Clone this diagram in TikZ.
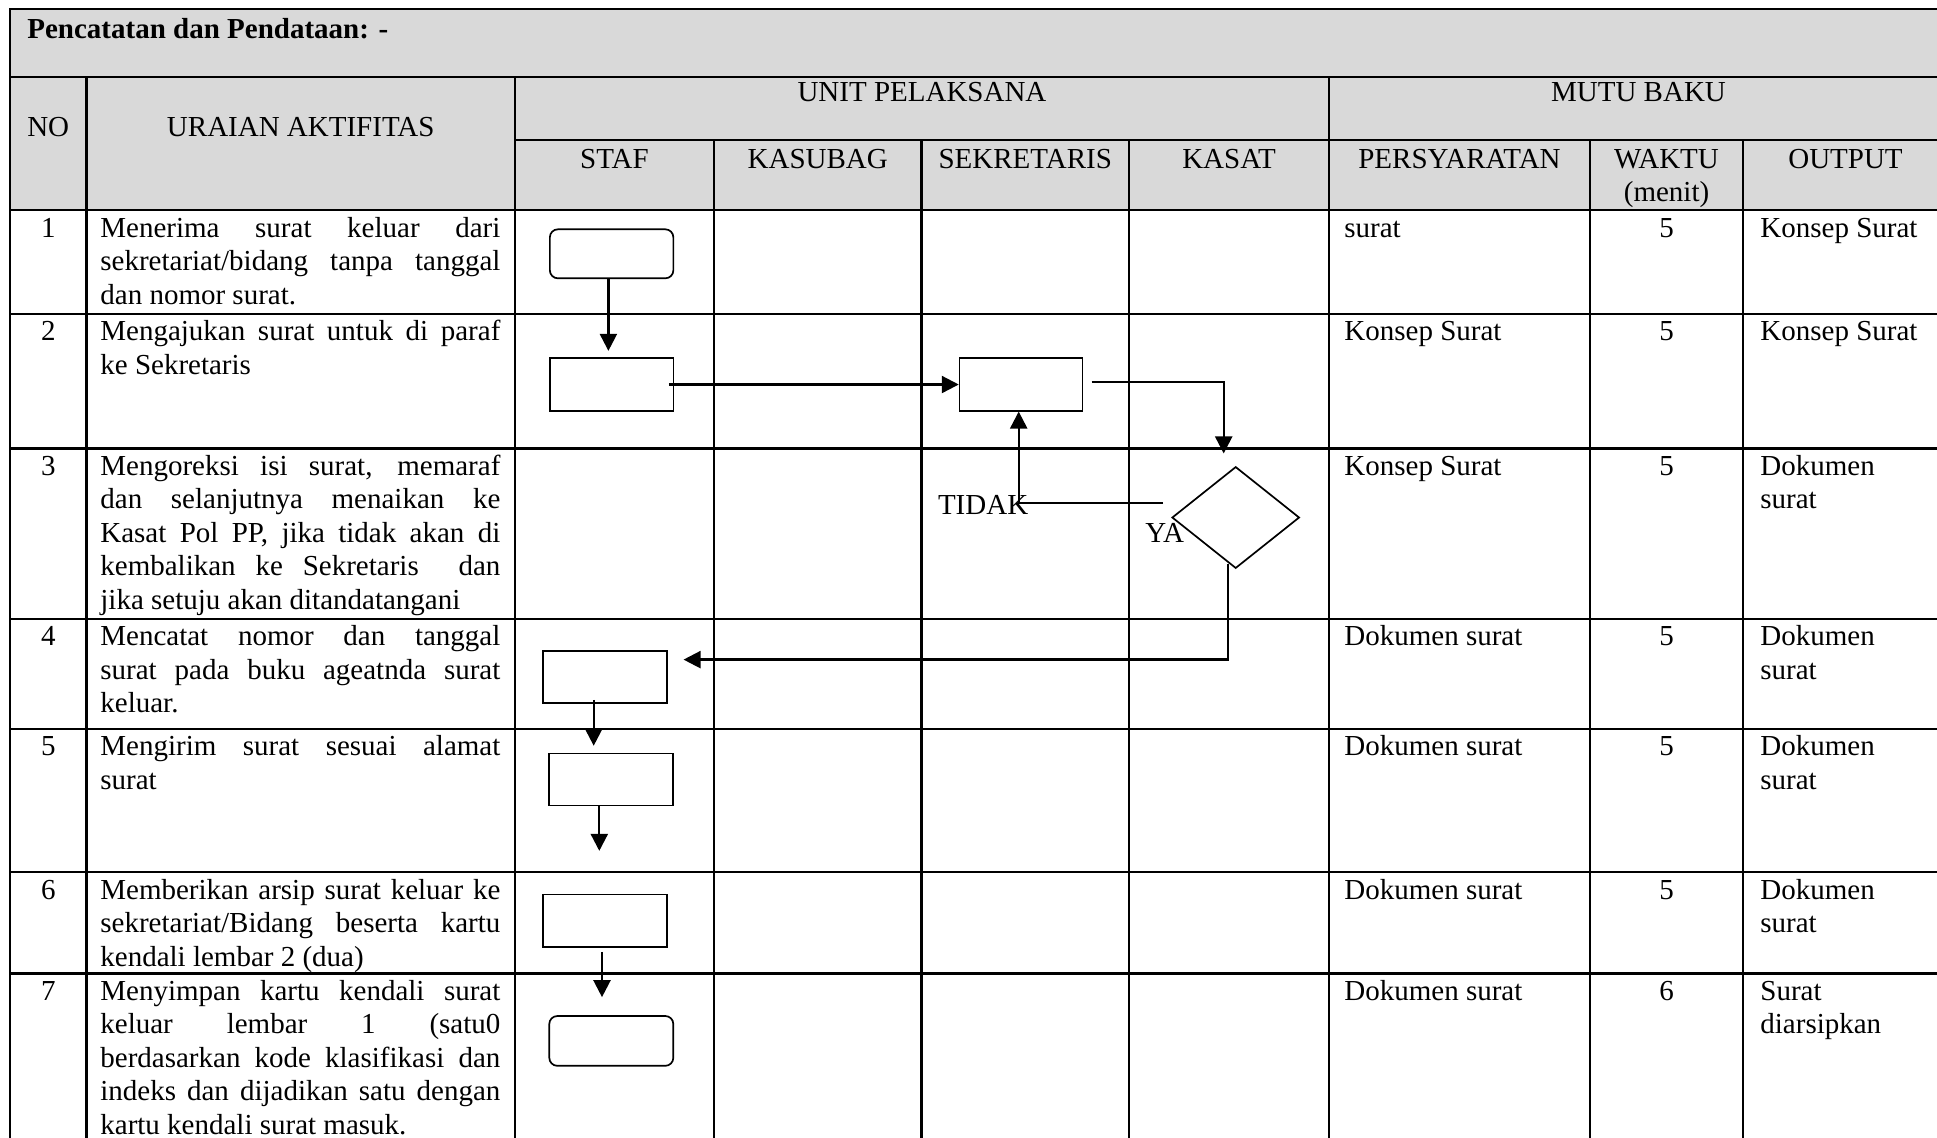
\documentclass[tikz,border=0pt]{standalone}
\usepackage{fontspec}
\setmainfont{Liberation Serif}
\usetikzlibrary{arrows.meta,shapes.geometric,calc}
\definecolor{hdrgray}{HTML}{D9D9D9}
\tikzset{
  tline/.style={line width=1.1pt, line cap=rect},
  box/.style={draw, line width=0.85pt, rectangle, inner sep=0pt},
  rbox/.style={box, rounded corners=4pt},
  dbox/.style={draw, line width=0.85pt, diamond, inner sep=0pt},
  arr/.style={line width=1.15pt, -{Triangle[length=8.5pt,width=8.5pt]}},
  txt/.style={inner sep=0pt, font=\fontsize{14.5pt}{16.75pt}\selectfont},
  bt/.style={txt, anchor=base},
  bw/.style={txt, anchor=base west},
}
\newcommand{\jl}[1]{\makebox[200pt][s]{#1}}
\newcommand{\dsc}[1]{\parbox[t]{200pt}{#1}}
\newcommand{\otp}[1]{\parbox[t]{100pt}{#1}}
\begin{document}
\begin{tikzpicture}[x=0.5pt,y=-0.5pt]
\useasboundingbox (0,0) rectangle (1937,1137);
\clip (0,0) rectangle (1937,1137);
% table
\fill[hdrgray] (10,8.6) rectangle (1948,210);
\draw[tline] (10,8.6) rectangle (1948,1160);
\foreach \y in {76.6,210,313.8,448.4,618.9,728.8,872.1,973.4} \draw[tline] (10,\y) -- (1948,\y);
\draw[tline] (515,139.6) -- (1948,139.6);
\foreach \x in {86.5,515,1329} \draw[tline] (\x,76.6) -- (\x,1160);
\foreach \x in {714,921.5,1129,1590,1743} \draw[tline] (\x,139.6) -- (\x,1160);
% header texts
\node[bw] (title) at (27,38) {\bfseries Pencatatan dan Pendataan: -};
\node[bt] (hno) at (48.25,136) {NO};
\node[bt] (hur) at (300.75,136) {URAIAN AKTIFITAS};
\node[bt] (hunit) at (922,101) {UNIT PELAKSANA};
\node[bt] (hmutu) at (1638.5,101) {MUTU BAKU};
\node[bt] (hstaf) at (614.5,168) {STAF};
\node[bt] (hkasub) at (817.75,168) {KASUBAG};
\node[bt] (hsek) at (1025.25,168) {SEKRETARIS};
\node[bt] (hkasat) at (1229,168) {KASAT};
\node[bt] (hpers) at (1459.5,168) {PERSYARATAN};
\node[bt] (hwak) at (1666.5,168) {WAKTU};
\node[bt] (hmen) at (1666.5,201) {(menit)};
\node[bt] (hout) at (1845.5,168) {OUTPUT};
% row numbers
\foreach \n/\y in {1/237,2/340.8,3/475.4,4/645.9,5/755.8,6/899.1,7/1000.4}
  \node[bt] (no\n) at (48.25,\y) {\n};
% descriptions
\node[bw] (d1) at (100,237) {\dsc{\jl{Menerima surat keluar dari}\\\jl{sekretariat/bidang tanpa tanggal}\\dan nomor surat.}};
\node[bw] (d2) at (100,340.8) {\dsc{\jl{Mengajukan surat untuk di paraf}\\ke Sekretaris}};
\node[bw] (d3) at (100,475.4) {\dsc{\jl{Mengoreksi isi surat, memaraf}\\\jl{dan selanjutnya menaikan ke}\\\jl{Kasat Pol PP, jika tidak akan di}\\\jl{kembalikan ke Sekretaris\ \ dan}\\jika setuju akan ditandatangani}};
\node[bw] (d4) at (100,645.9) {\dsc{\jl{Mencatat nomor dan tanggal}\\\jl{surat pada buku ageatnda surat}\\keluar.}};
\node[bw] (d5) at (100,755.8) {\dsc{\jl{Mengirim surat sesuai alamat}\\surat}};
\node[bw] (d6) at (100,899.1) {\dsc{\jl{Memberikan arsip surat keluar ke}\\\jl{sekretariat/Bidang beserta kartu}\\kendali lembar 2 (dua)}};
\node[bw] (d7) at (100,1000.4) {\dsc{\jl{Menyimpan kartu kendali surat}\\\jl{keluar lembar 1 (satu0}\\\jl{berdasarkan kode klasifikasi dan}\\\jl{indeks dan dijadikan satu dengan}\\kartu kendali surat masuk.}};
% persyaratan
\node[bw] (p1) at (1344,237) {surat};
\node[bw] (p2) at (1344,340.8) {Konsep Surat};
\node[bw] (p3) at (1344,475.4) {Konsep Surat};
\node[bw] (p4) at (1344,645.9) {Dokumen surat};
\node[bw] (p5) at (1344,755.8) {Dokumen surat};
\node[bw] (p6) at (1344,899.1) {Dokumen surat};
\node[bw] (p7) at (1344,1000.4) {Dokumen surat};
% waktu
\foreach \n/\y/\v in {1/237/5,2/340.8/5,3/475.4/5,4/645.9/5,5/755.8/5,6/899.1/5,7/1000.4/6}
  \node[bt] (w\n) at (1666.5,\y) {\v};
% output
\node[bw] (o1) at (1760,237) {Konsep Surat};
\node[bw] (o2) at (1760,340.8) {Konsep Surat};
\node[bw] (o3) at (1760,475.4) {\otp{Dokumen\\surat}};
\node[bw] (o4) at (1760,645.9) {\otp{Dokumen\\surat}};
\node[bw] (o5) at (1760,755.8) {\otp{Dokumen\\surat}};
\node[bw] (o6) at (1760,899.1) {\otp{Dokumen\\surat}};
\node[bw] (o7) at (1760,1000.4) {\otp{Surat\\diarsipkan}};
% flow shapes
\node[rbox, minimum width=61.75pt, minimum height=24.5pt] (r1) at (611.6,253.8) {};
\node[box, minimum width=61.75pt, minimum height=26.2pt] (r2) at (611.6,384.5) {};
\node[box, minimum width=61.5pt, minimum height=26.2pt] (r3) at (1021.1,384.5) {};
\node[dbox, minimum width=63.7pt, minimum height=50.8pt] (dia) at (1235.7,517.5) {};
\node[box, minimum width=62pt, minimum height=26pt] (r4) at (605.3,676.7) {};
\node[box, minimum width=62pt, minimum height=26pt] (r5) at (611.3,779.5) {};
\node[box, minimum width=62pt, minimum height=26.2pt] (r6) at (605.3,920.7) {};
\node[rbox, minimum width=62pt, minimum height=24.9pt] (r7) at (611.3,1040.9) {};
% labels
\node[bw] (tidak) at (937.6,514) {TIDAK};
\node[bw] (ya) at (1145,542) {YA};
% connectors
\draw[arr] ([xshift=-1.6pt]r1.south) -- ([xshift=-1.6pt,yshift=3.3pt]r2.north);
\draw[arr] ([xshift=-2.7pt]r2.east) -- (r3.west);
\draw[arr] ([xshift=4.1pt,yshift=1.1pt]r3.east) -| ([xshift=-6pt,yshift=6.2pt]dia.north);
\draw[arr] ([xshift=-4pt,yshift=7.1pt]dia.west) -| ([xshift=-1.2pt]r3.south);
\draw[arr] ([xshift=-3.85pt,yshift=2.65pt]dia.south) |- ([xshift=7.7pt,yshift=8.55pt]r4.east);
\draw[arr] ([xshift=-5.8pt,yshift=1.85pt]r4.south) -- ([xshift=-8.8pt,yshift=3.45pt]r5.north);
\draw[arr] ([xshift=-6pt,yshift=0.5pt]r5.south) -- ([xshift=-3pt,yshift=21.4pt]r6.north);
\draw[arr] ([xshift=-1.65pt,yshift=-2.05pt]r6.south) -- ([xshift=-4.65pt,yshift=9pt]r7.north);
\end{tikzpicture}
\end{document}
